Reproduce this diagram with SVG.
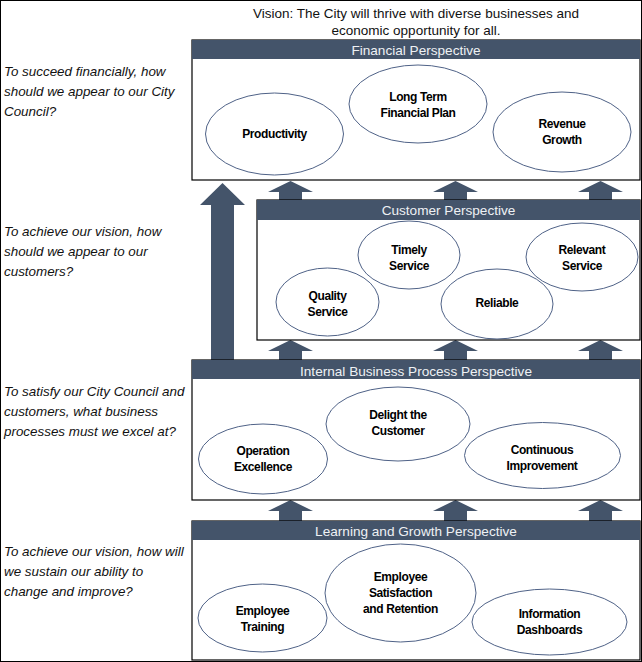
<svg xmlns="http://www.w3.org/2000/svg" width="642" height="662" viewBox="0 0 642 662">
<style>
.bg{fill:#ffffff;stroke:#000000;stroke-width:1}
.box{fill:#ffffff;stroke:#000000;stroke-width:1.2}
.hdr{fill:#44546A}
.htx{font-family:"Liberation Sans",Arial,sans-serif;font-size:13.6px;fill:#eef1f4;text-anchor:middle}
.q{font-family:"Liberation Sans",Arial,sans-serif;font-size:13.4px;font-style:italic;fill:#111111}
.v{font-family:"Liberation Sans",Arial,sans-serif;font-size:13.5px;fill:#111111;text-anchor:middle}
.ell{fill:#ffffff;stroke:#4F6287;stroke-width:1}
.lbl{font-family:"Liberation Sans",Arial,sans-serif;font-size:12px;font-weight:bold;letter-spacing:-0.4px;fill:#000000;text-anchor:middle}
.arr{fill:#44546A}
</style>
<rect class="bg" x="0.5" y="0.5" width="641" height="661"/>

<g id="vision">
<text class="v" x="416" y="17.5">Vision: The City will thrive with diverse businesses and</text>
<text class="v" x="416" y="35">economic opportunity for all.</text>
</g>

<g id="questions">
<text class="q" x="4" y="76">To succeed financially, how</text>
<text class="q" x="4" y="96">should we appear to our City</text>
<text class="q" x="4" y="116">Council?</text>
<text class="q" x="4" y="236">To achieve our vision, how</text>
<text class="q" x="4" y="256">should we appear to our</text>
<text class="q" x="4" y="276">customers?</text>
<text class="q" x="4" y="396">To satisfy our City Council and</text>
<text class="q" x="4" y="416">customers, what business</text>
<text class="q" x="4" y="436">processes must we excel at?</text>
<text class="q" x="4" y="556">To achieve our vision, how will</text>
<text class="q" x="4" y="576">we sustain our ability to</text>
<text class="q" x="4" y="596">change and improve?</text>
</g>

<g id="connectors">
<polygon class="arr" points="222.5,183 245,205 234,205 234,361 211,361 211,205 200,205"/>
<polygon class="arr" points="290.5,181 313,192 302,192 302,201 279,201 279,192 268,192"/>
<polygon class="arr" points="455.5,181 478,192 467,192 467,201 444,201 444,192 433,192"/>
<polygon class="arr" points="600.5,181 623,192 612,192 612,201 589,201 589,192 578,192"/>
<polygon class="arr" points="290.5,340 313,351 302,351 302,361 279,361 279,351 268,351"/>
<polygon class="arr" points="455.5,340 478,351 467,351 467,361 444,361 444,351 433,351"/>
<polygon class="arr" points="600.5,340 623,351 612,351 612,361 589,361 589,351 578,351"/>
<polygon class="arr" points="290.5,500 313,511 302,511 302,521 279,521 279,511 268,511"/>
<polygon class="arr" points="455.5,500 478,511 467,511 467,521 444,521 444,511 433,511"/>
<polygon class="arr" points="600.5,500 623,511 612,511 612,521 589,521 589,511 578,511"/>
</g>

<g id="financial">
<rect class="box" x="192" y="40" width="448" height="140"/>
<rect class="hdr" x="192" y="40" width="448" height="19"/>
<text class="htx" x="416" y="55">Financial Perspective</text>
</g>
<g id="productivity">
<ellipse class="ell" cx="274.5" cy="134" rx="69" ry="41"/>
<text class="lbl" x="274.5" y="138">Productivity</text>
</g>
<g id="long-term-financial-plan">
<ellipse class="ell" cx="418" cy="104" rx="69" ry="39"/>
<text class="lbl" x="418" y="101">Long Term</text>
<text class="lbl" x="418" y="117">Financial  Plan</text>
</g>
<g id="revenue-growth">
<ellipse class="ell" cx="562" cy="132" rx="69" ry="40"/>
<text class="lbl" x="562" y="128">Revenue</text>
<text class="lbl" x="562" y="144">Growth</text>
</g>

<g id="customer">
<rect class="box" x="257" y="200" width="383" height="140"/>
<rect class="hdr" x="257" y="200" width="383" height="20"/>
<text class="htx" x="448.5" y="215">Customer Perspective</text>
</g>
<g id="timely-service">
<ellipse class="ell" cx="409" cy="255" rx="51" ry="34"/>
<text class="lbl" x="409" y="254">Timely</text>
<text class="lbl" x="409" y="270">Service</text>
</g>
<g id="relevant-service">
<ellipse class="ell" cx="582" cy="257" rx="56" ry="34"/>
<text class="lbl" x="582" y="254">Relevant</text>
<text class="lbl" x="582" y="270">Service</text>
</g>
<g id="quality-service">
<ellipse class="ell" cx="327.5" cy="302" rx="51.5" ry="34"/>
<text class="lbl" x="327.5" y="300">Quality</text>
<text class="lbl" x="327.5" y="316">Service</text>
</g>
<g id="reliable">
<ellipse class="ell" cx="497" cy="304" rx="56" ry="35"/>
<text class="lbl" x="497" y="307">Reliable</text>
</g>

<g id="internal">
<rect class="box" x="192" y="360" width="448" height="140"/>
<rect class="hdr" x="192" y="360" width="448" height="19"/>
<text class="htx" x="416" y="376">Internal Business Process Perspective</text>
</g>
<g id="operation-excellence">
<ellipse class="ell" cx="263" cy="459" rx="64.5" ry="35"/>
<text class="lbl" x="263" y="455">Operation</text>
<text class="lbl" x="263" y="471">Excellence</text>
</g>
<g id="delight-the-customer">
<ellipse class="ell" cx="398" cy="424" rx="72" ry="37"/>
<text class="lbl" x="398" y="419">Delight the</text>
<text class="lbl" x="398" y="435">Customer</text>
</g>
<g id="continuous-improvement">
<ellipse class="ell" cx="542.5" cy="455.5" rx="78" ry="33"/>
<text class="lbl" x="542" y="454">Continuous</text>
<text class="lbl" x="542" y="470">Improvement</text>
</g>

<g id="learning">
<rect class="box" x="192" y="521" width="448" height="139"/>
<rect class="hdr" x="192" y="521" width="448" height="19"/>
<text class="htx" x="416" y="536">Learning and Growth Perspective</text>
</g>
<g id="employee-training">
<ellipse class="ell" cx="262.5" cy="618" rx="64.5" ry="34"/>
<text class="lbl" x="262.5" y="615">Employee</text>
<text class="lbl" x="262.5" y="631">Training</text>
</g>
<g id="employee-satisfaction">
<ellipse class="ell" cx="400.5" cy="593" rx="75.5" ry="49"/>
<text class="lbl" x="400.5" y="581">Employee</text>
<text class="lbl" x="400.5" y="597">Satisfaction</text>
<text class="lbl" x="400.5" y="613">and Retention</text>
</g>
<g id="information-dashboards">
<ellipse class="ell" cx="549.5" cy="622" rx="77.5" ry="33"/>
<text class="lbl" x="549.5" y="618">Information</text>
<text class="lbl" x="549.5" y="634">Dashboards</text>
</g>
</svg>
